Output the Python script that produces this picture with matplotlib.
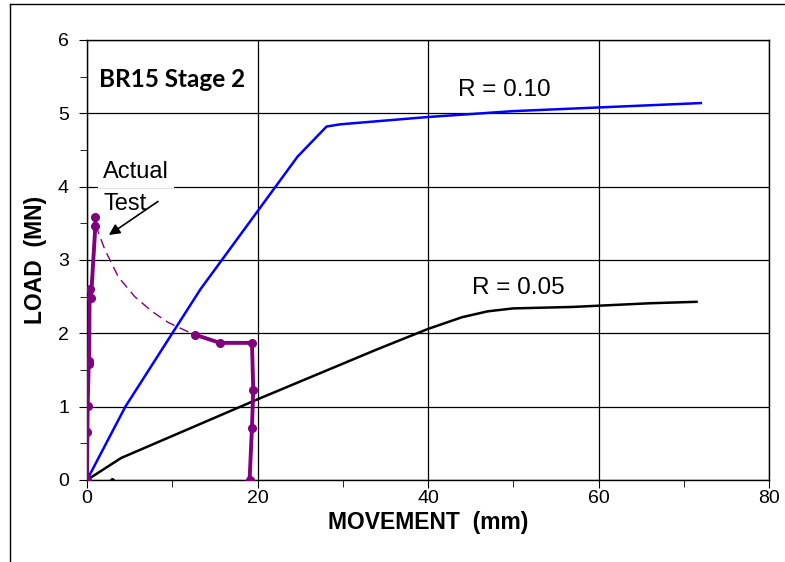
import matplotlib
matplotlib.use("Agg")
import matplotlib.pyplot as plt
from matplotlib.lines import Line2D
from matplotlib.ticker import MultipleLocator

# ---- data ----
r10_x = [0, 4.5, 13.3, 24.7, 28.1, 29.7, 40, 50, 60, 72]
r10_y = [0, 1.0, 2.6, 4.41, 4.82, 4.85, 4.95, 5.03, 5.08, 5.14]

r05_x = [0, 4.0, 20, 34, 40, 44, 47, 50, 57, 66, 71.5]
r05_y = [0, 0.30, 1.1, 1.78, 2.06, 2.22, 2.30, 2.34, 2.36, 2.41, 2.43]

test_load_x = [0, 0.05, 0.08, 0.2, 0.25, 0.31, 0.47, 0.98, 0.98]
test_load_y = [0, 0.65, 1.01, 1.58, 1.62, 2.6, 2.48, 3.46, 3.58]

test_curve_x = [1.0, 2.1, 3.67, 5.6, 7.6, 9.5, 11.5, 12.7]
test_curve_y = [3.48, 3.14, 2.77, 2.5, 2.3, 2.15, 2.04, 1.98]

test_tail_x = [12.7, 15.6, 19.35, 19.5, 19.35, 19.07]
test_tail_y = [1.98, 1.87, 1.87, 1.23, 0.71, 0.0]

dot_x = [2.94]
dot_y = [0.0]

x_ticks = [0, 20, 40, 60, 80]
y_ticks = [0, 1, 2, 3, 4, 5, 6]

purple = "#800080"

fig = plt.figure(figsize=(7.85, 5.62), dpi=100)
ax = fig.add_axes([87/785, 1-480/562, (769-87)/785, (480-40)/562])

ax.plot(r10_x, r10_y, color="#0000ff", lw=1.8, zorder=3)
ax.plot(r05_x, r05_y, color="black", lw=1.8, zorder=3)
ax.plot(test_curve_x, test_curve_y, color=purple, lw=1.0, ls=(0, (7, 4)), zorder=3)
ax.plot(test_load_x, test_load_y, color=purple, lw=2.8, marker="o", ms=5.5, zorder=4)
ax.plot(test_tail_x, test_tail_y, color=purple, lw=2.8, marker="o", ms=5.5, zorder=4)
ax.plot(dot_x, dot_y, "o", color="black", ms=2.5, zorder=5)

ax.set_xlim(0, 80)
ax.set_ylim(0, 6)
ax.set_xticks(x_ticks)
ax.set_yticks(y_ticks)
ax.xaxis.set_minor_locator(MultipleLocator(10))
ax.yaxis.set_minor_locator(MultipleLocator(0.5))
ax.tick_params(which="both", direction="out", labelsize=14, color="black")
ax.tick_params(which="major", length=6)
ax.tick_params(which="minor", length=5)
ax.tick_params(axis="y", which="major", pad=7)
ax.tick_params(axis="x", which="major", pad=1)
for lab in ax.get_xticklabels() + ax.get_yticklabels():
    lab.set_family("Liberation Sans")
ax.grid(True, which="major", color="black", lw=0.9)
ax.set_axisbelow(True)
for s in ax.spines.values():
    s.set_color("black")
    s.set_linewidth(1.0)

ax.set_xlabel("MOVEMENT  (mm)", fontsize=16.5, fontweight="bold", family="Liberation Sans", labelpad=3)
ax.set_ylabel("LOAD  (MN)", fontsize=16.5, fontweight="bold", family="Liberation Sans", labelpad=8)

ax.text(1.4, 5.355, "BR15 Stage 2", fontsize=17.5, fontweight="bold", family="Lato", va="baseline", ha="left")
ax.text(43.55, 5.236, "R = 0.10", fontsize=17.5, family="Liberation Sans", va="baseline", ha="left")
ax.text(45.2, 2.532, "R = 0.05", fontsize=17.5, family="Liberation Sans", va="baseline", ha="left")
ax.text(1.9, 4.12, "Actual", fontsize=17, family="Liberation Sans", va="baseline", ha="left",
        bbox=dict(facecolor="white", edgecolor="none", pad=3.5), zorder=2.5)
ax.text(1.9, 3.68, "Test", fontsize=17, family="Liberation Sans", va="baseline", ha="left", zorder=2.6)
ax.annotate("", xy=(2.3, 3.32), xytext=(8.6, 3.82),
            arrowprops=dict(arrowstyle="-|>", color="black", lw=1.2, mutation_scale=16), zorder=6)

# figure frame (left and top)
fig.add_artist(Line2D([10/785, 10/785], [0, 1-4/562], color="black", lw=1.0, transform=fig.transFigure))
fig.add_artist(Line2D([10/785, 1], [1-4/562, 1-4/562], color="black", lw=1.0, transform=fig.transFigure))

fig.savefig("out.png", dpi=100)
